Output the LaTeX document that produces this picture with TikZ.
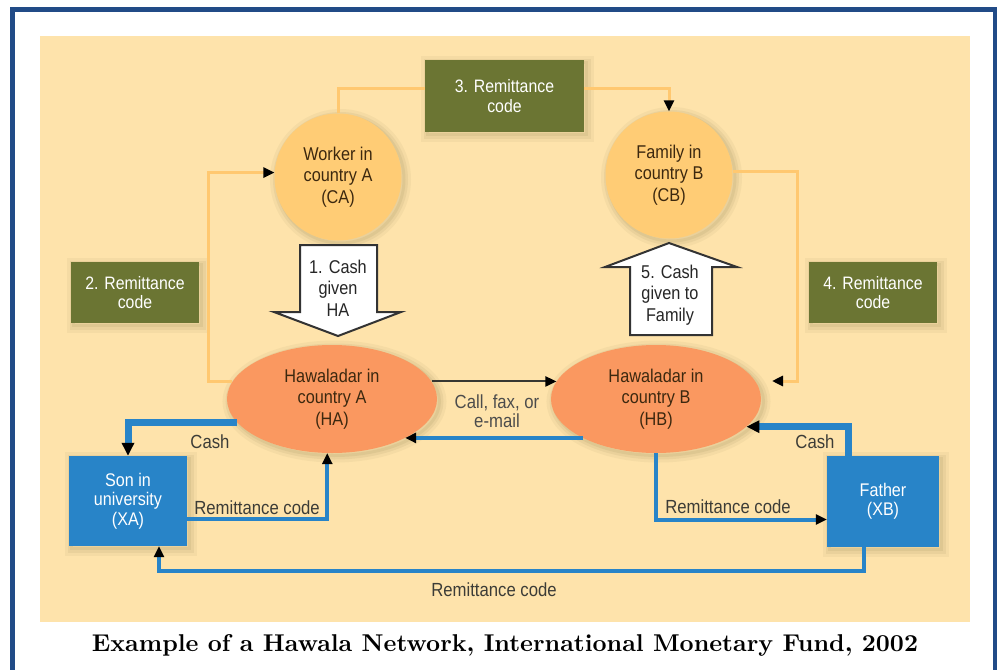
\documentclass[tikz,border=0pt]{standalone}
\usepackage{fontspec}
\usepackage{graphicx}
\usetikzlibrary{shapes.geometric,arrows.meta}
\newfontfamily\dsf[FakeStretch=0.88]{Liberation Sans}
\definecolor{frameblue}{RGB}{33,75,135}
\definecolor{panel}{RGB}{254,227,171}
\definecolor{circfill}{RGB}{255,204,117}
\definecolor{ellfill}{RGB}{250,152,96}
\definecolor{olivebox}{RGB}{107,117,51}
\definecolor{boxblue}{RGB}{40,132,200}
\definecolor{codecol}{RGB}{255,200,112}
\definecolor{nodetext}{RGB}{60,40,15}
\definecolor{labeltext}{RGB}{60,60,55}
\definecolor{callcol}{RGB}{55,55,50}
\definecolor{shadecol}{RGB}{90,85,40}
\begin{document}
\begin{tikzpicture}[x=1pt,y=-1pt,
  every node/.style={font=\dsf\fontsize{18.5}{21.5}\selectfont, align=center, inner sep=0pt},
  softshadow/.style={
    preaction={draw=shadecol, draw opacity=0.05, line width=14pt, transform canvas={shift={(2.5pt,-2.5pt)}}},
    preaction={draw=shadecol, draw opacity=0.07, line width=8pt, transform canvas={shift={(2.5pt,-2.5pt)}}},
    preaction={draw=shadecol, draw opacity=0.08, line width=3pt, transform canvas={shift={(2.5pt,-2.5pt)}}}},
  actor/.style={circle, fill=circfill, minimum size=127pt, text=nodetext, softshadow},
  hawala/.style={ellipse, fill=ellfill, minimum width=210pt, minimum height=108pt, text=nodetext, softshadow},
  codebox/.style={rectangle, fill=olivebox, text=white, font=\dsf\fontsize{18}{19.5}\selectfont, softshadow},
  person/.style={rectangle, fill=boxblue, text=white, font=\dsf\fontsize{18.3}{19.5}\selectfont, softshadow},
  blacktip/.style={-{Triangle[length=11pt,width=10pt,color=black]}},
  codeline/.style={draw=codecol, line width=3pt},
  callline/.style={draw=callcol, line width=2pt, blacktip},
  cashline/.style={draw=boxblue, line width=7pt, -{Triangle[length=13pt,width=12pt,color=black]}},
  remitline/.style={draw=boxblue, line width=4pt, blacktip},
  flowlabel/.style={text=labeltext, font=\dsf\fontsize{19}{19.5}\selectfont},
  blockarrow/.style={fill=white, draw=black!80, line width=2pt, line join=miter},
  blocktext/.style={text=black!85, font=\dsf\fontsize{18.5}{21.5}\selectfont}
]
\useasboundingbox (0,0) rectangle (997,670);
\fill[white] (0,0) rectangle (997,670);
\draw[frameblue, line width=5pt] (12.5,9) rectangle (995.5,720);
\fill[panel] (40,36) rectangle (970,622);

% nodes
\node[actor] (CA) at (338,177) {Worker in\\country A\\(CA)};
\node[actor] (CB) at (669,175) {Family in\\country B\\(CB)};
\node[codebox, minimum width=159pt, minimum height=72pt] (R3) at (504.5,96) {3. Remittance\\code};
\node[codebox, minimum width=128pt, minimum height=61pt] (R2) at (135,292.5) {2. Remittance\\code};
\node[codebox, minimum width=128pt, minimum height=61pt] (R4) at (873,292.5) {4. Remittance\\code};
\node[hawala] (HA) at (332,399) {Hawaladar in\\country A\\(HA)};
\node[hawala] (HB) at (656,399) {Hawaladar in\\country B\\(HB)};
\node[person, minimum width=118pt, minimum height=90pt] (XA) at (128,501) {Son in\\university\\(XA)};
\node[person, minimum width=112pt, minimum height=91pt] (XB) at (883,501.5) {Father\\(XB)};

% block arrows
\draw[blockarrow] (300,245) -- (377,245) -- (377,312) -- (401,312) -- (338,336) -- (274,312) -- (300,312) -- cycle;
\node[blocktext] (A1) at (338,288) {1. Cash\\given\\HA};
\draw[blockarrow] (630,335) -- (712,335) -- (712,267) -- (737,267) -- (669,243) -- (605,267) -- (630,267) -- cycle;
\node[blocktext] (A5) at (670,295) {5. Cash\\given to\\Family};

% code lines (orange)
\draw[codeline] (CA.north) |- ([yshift=8pt]R3.west);
\draw[codeline, blacktip] ([yshift=8pt]R3.east) -| (CB.north);
\draw[codeline, blacktip] (HA.170) -- ++(-24,0) |- (CA.176);
\coordinate (t4) at (772,381);
\draw[codeline] (CB.3) -| ([xshift=25pt]t4);
\draw[codeline, blacktip] ([xshift=26.5pt]t4) -- (t4);

% call, fax
\draw[callline] (HA.10) -- (HB.170);
\node[flowlabel, text=black!70] (call) at (497,411) {Call, fax, or\\e-mail};

% blue lines
\draw[draw=boxblue, line width=3.5pt, blacktip] (HB.208) -- (HA.-28);
\draw[cashline] (HA.194) -| (XA.north);
\draw[remitline] ([yshift=-18pt]XA.east) -| (HA.-95);
\draw[cashline] ([xshift=-35pt]XB.north) |- (HB.-17);
\draw[remitline] (HB.south) |- ([yshift=-18pt]XB.west);
\draw[remitline] ([xshift=-19pt]XB.south) -- ++(0,24) -| ([xshift=31pt]XA.south);

% labels
\node[flowlabel] (l1) at (210,442) {Cash};
\node[flowlabel] (l2) at (257,508) {Remittance code};
\node[flowlabel] (l3) at (815,442) {Cash};
\node[flowlabel] (l4) at (728,507) {Remittance code};
\node[flowlabel] (l5) at (494,590) {Remittance code};

% caption
\node[anchor=base, font=\rmfamily] (cap) at (505,651) {\resizebox{826pt}{17pt}{\bfseries Example of a Hawala Network, International Monetary Fund, 2002}};
\end{tikzpicture}
\end{document}
